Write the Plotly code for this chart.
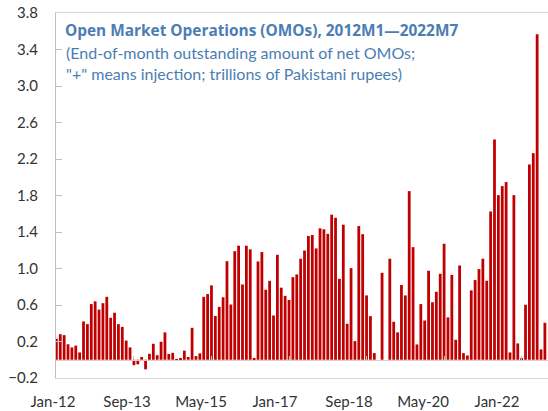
"""OMO 残高の月次棒グラフ (2012M1〜2022M7) を Plotly で描画する。"""

import pandas as pd
import plotly.graph_objects as go

# 月次データ: 月末の純 OMO 残高 (兆パキスタン・ルピー, "+" = 資金供給)
MONTHS = list(pd.date_range("2012-01-01", periods=127, freq="MS").strftime("%b-%y"))

OMO_VALUES = [
    0.23, 0.28, 0.27, 0.17, 0.135, 0.155, 0.08, 0.42, 0.39, 0.61,
    0.64, 0.55, 0.62, 0.69, 0.46, 0.515, 0.39, 0.36, 0.21, 0.135,
    -0.06, -0.05, 0.03, -0.105, 0.065, 0.175, 0.05, 0.197, 0.30, 0.063,
    0.076, -0.01, 0.02, 0.10, 0.03, 0.35, 0.04, 0.07, 0.69, 0.72,
    0.815, 0.48, 0.58, 0.685, 1.08, 0.605, 1.19, 1.25, 0.825, 1.25,
    1.21, 0.02, 1.077, 1.18, 0.767, 0.865, 0.485, 1.15, 0.79, 0.70,
    0.655, 0.905, 0.935, 1.107, 1.197, 1.357, 1.367, 1.22, 1.44, 1.43,
    1.38, 1.59, 1.556, 0.887, 1.48, 0.394, 1.004, 0.204, 1.465, 1.376,
    0.705, 0.478, 0.073, 0.0, 0.953, 0.0, 1.107, 0.416, 0.30, 0.82,
    0.705, 1.848, 1.234, 0.168, 0.61, 0.43, 0.975, 0.63, 0.745, 0.942,
    1.271, 0.464, 0.93, 0.219, 1.033, 0.073, 0.047, 0.76, 0.873, 0.993,
    1.107, 0.866, 1.625, 2.414, 1.804, 1.903, 1.947, 0.08, 1.804, 0.179,
    0.02, 0.603, 2.14, 2.264, 3.568, 0.113, 0.405,
]

# 下端の軸ラベル (20 か月ごと)
X_TICK_LABELS = ["Jan-12", "Sep-13", "May-15", "Jan-17", "Sep-18", "May-20", "Jan-22"]

TITLE = "Open Market Operations (OMOs), 2012M1\u20142022M7"
SUBTITLE_LINES = [
    "(End-of-month outstanding amount of net OMOs;",
    "\"+\" means injection; trillions of Pakistani rupees)",
]

BAR_COLOR = "#C00000"
TITLE_COLOR = "#4B7DB4"
TEXT_COLOR = "#333333"
FONT = "Lato, 'Open Sans', sans-serif"

fig = go.Figure()

fig.add_trace(go.Bar(
    x=MONTHS,
    y=OMO_VALUES,
    marker=dict(color=BAR_COLOR, line=dict(width=0)),
    width=0.72,
    name="Net OMOs",
    hovertemplate="%{x}: %{y:.2f}<extra></extra>",
))

# ラベル専用の軸を描画させるためのダミー (点なし)
fig.add_trace(go.Scatter(x=[], y=[], xaxis="x2", showlegend=False, hoverinfo="skip"))

fig.add_annotation(
    text=f"<b>{TITLE}</b>", xref="paper", yref="paper", x=0.014, y=0.953,
    xanchor="left", yanchor="middle", showarrow=False,
    font=dict(family="'Open Sans', sans-serif", size=15.4, color=TITLE_COLOR),
)
for i, line in enumerate(SUBTITLE_LINES):
    fig.add_annotation(
        text=line, xref="paper", yref="paper", x=0.016, y=0.893 - 0.06 * i,
        xanchor="left", yanchor="middle", showarrow=False,
        font=dict(family=FONT, size=16, color=TITLE_COLOR),
    )

fig.update_layout(
    width=548,
    height=411,
    autosize=False,
    margin=dict(l=56, r=0, t=13, b=33),
    plot_bgcolor="white",
    paper_bgcolor="white",
    showlegend=False,
    bargap=0.28,
    font=dict(family=FONT, size=15, color=TEXT_COLOR),
    # 棒グラフ用の軸: y=0 の位置に置き、20 か月ごとに目盛りを付ける
    xaxis=dict(
        type="category",
        range=[-0.1, 126.8],
        anchor="free",
        position=0.05,
        showline=True,
        linecolor="#E3C9C9",
        linewidth=1,
        ticks="inside",
        ticklen=4,
        tickcolor="#BFBFBF",
        tickvals=MONTHS[20::20],
        showticklabels=False,
        showgrid=False,
        zeroline=False,
    ),
    # 下端のラベル軸 (枠線を兼ねる)
    xaxis2=dict(
        overlaying="x",
        anchor="y",
        side="bottom",
        range=[0, 132.97],
        tickvals=[20 * k for k in range(len(X_TICK_LABELS))],
        ticktext=X_TICK_LABELS,
        ticklabelshift=-3,
        ticklabelstandoff=10,
        ticks="",
        showline=True,
        mirror=True,
        linecolor="#D9D9D9",
        showgrid=False,
        zeroline=False,
        tickfont=dict(size=15, color=TEXT_COLOR),
    ),
    yaxis=dict(
        range=[-0.2, 3.8],
        tick0=-0.2,
        dtick=0.4,
        tickformat=".1f",
        showline=True,
        linecolor="#BFBFBF",
        ticks="inside",
        ticklen=6,
        tickcolor="#BFBFBF",
        ticklabelstandoff=14,
        showgrid=False,
        zeroline=False,
        tickfont=dict(size=15, color=TEXT_COLOR),
    ),
)

# ページ既定の body 余白 (8px) を消して図を左上に揃える
fig.write_html(
    "out.html",
    config={"displayModeBar": False},
    post_script="document.body.style.margin = '0';",
)
